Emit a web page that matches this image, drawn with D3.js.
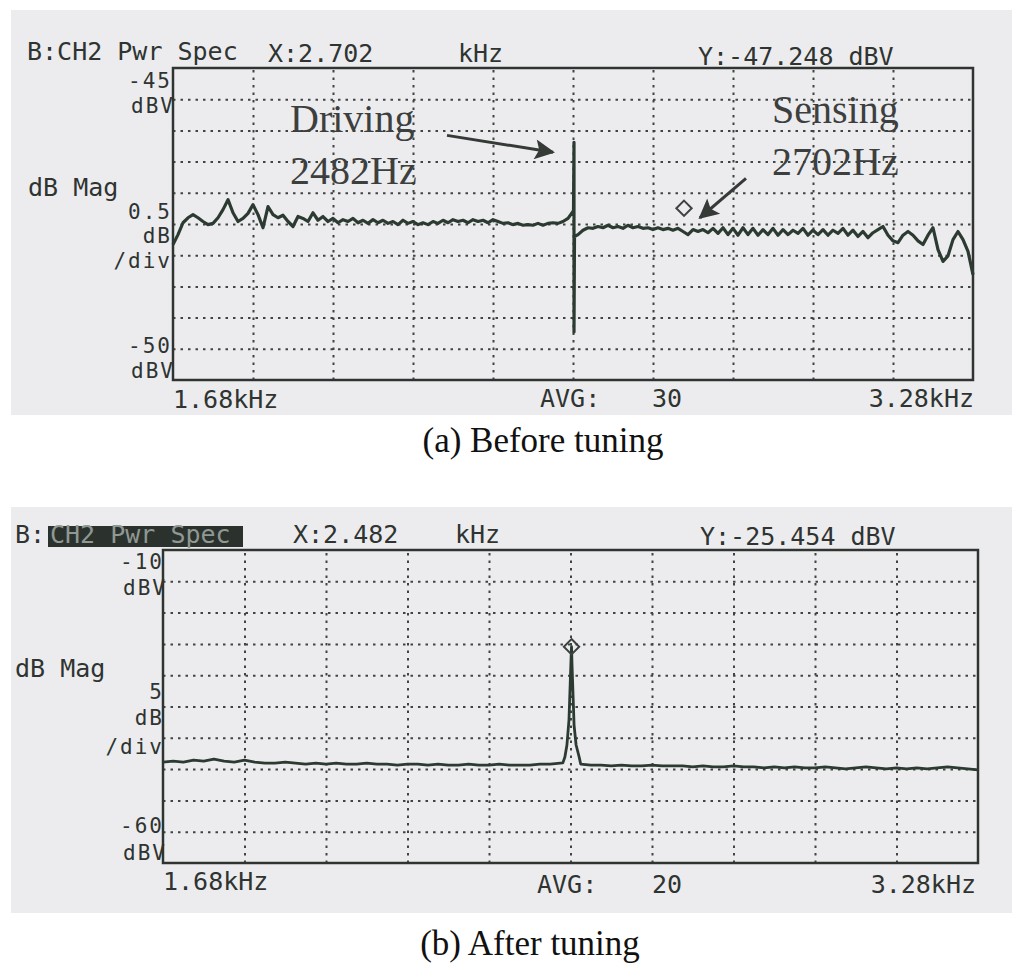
<!DOCTYPE html>
<html>
<head>
<meta charset="utf-8">
<script src="https://cdn.jsdelivr.net/npm/d3@7"></script>
<style>
  body { margin: 0; background: #fff; }
  svg { display: block; }
  .mono { font-family: "DejaVu Sans Mono", monospace; font-size: 25px; fill: #2f3431; }
  .mono.small { font-size: 21px; letter-spacing: 2px; }
  .serif { font-family: "Liberation Serif", "Times New Roman", serif; }
</style>
</head>
<body>
<div id="chart"></div>
<script>
// 1: DATA
const freqStart = 1.68;   // kHz
const freqEnd = 3.28;     // kHz
const gridFreqs = [1.84, 2.00, 2.16, 2.32, 2.48, 2.64, 2.80, 2.96, 3.12];

// (a) before tuning: 10 Hz bins from 1.68 kHz, dBV
const magA = [
  -47.83, -47.67, -47.48, -47.40, -47.35, -47.40, -47.46, -47.51, -47.49, -47.40,
  -47.27, -47.11, -47.32, -47.46, -47.41, -47.33, -47.19, -47.35, -47.56, -47.22,
  -47.35, -47.40, -47.36, -47.46, -47.54, -47.38, -47.41, -47.46, -47.32, -47.44,
  -47.38, -47.46, -47.41, -47.48, -47.43, -47.46, -47.41, -47.48, -47.44, -47.49,
  -47.43, -47.48, -47.44, -47.49, -47.46, -47.51, -47.44, -47.49, -47.46, -47.51,
  -47.48, -47.51, -47.46, -47.49, -47.44, -47.48, -47.43, -47.46, -47.44, -47.48,
  -47.43, -47.46, -47.44, -47.48, -47.43, -47.46, -47.49, -47.48, -47.51, -47.49,
  -47.52, -47.51, -47.52, -47.49, -47.52, -47.49, -47.48, -47.49, -47.46, -47.41,
  -47.30,
  -47.67, -47.60, -47.56, -47.57, -47.54, -47.56, -47.52, -47.56, -47.54, -47.57,
  -47.52, -47.56, -47.54, -47.57, -47.56, -47.59, -47.56, -47.59, -47.57, -47.60,
  -47.57, -47.62, -47.67, -47.59, -47.62, -47.59, -47.64, -47.57, -47.65, -47.56,
  -47.67, -47.57, -47.68, -47.56, -47.67, -47.57, -47.68, -47.59, -47.67, -47.57,
  -47.68, -47.59, -47.67, -47.60, -47.65, -47.57, -47.68, -47.60, -47.67, -47.59,
  -47.68, -47.60, -47.65, -47.57, -47.68, -47.60, -47.70, -47.62, -47.72, -47.64,
  -47.59, -47.54, -47.68, -47.77, -47.80, -47.68, -47.62, -47.68, -47.77, -47.83,
  -47.68, -47.56, -47.91, -48.10, -48.01, -47.75, -47.62, -47.75, -47.94, -48.31
];
// the driving line at 2482 Hz
const spikeFreqA = [2.481, 2.482, 2.482, 2.483];
const spikeMagA = [-47.28, -46.19, -49.23, -47.70];
const gridMagA = [-45.5, -46, -46.5, -47, -47.5, -48, -48.5, -49, -49.5];

// (b) after tuning: 20 Hz bins from 1.68 kHz, dBV (bin at 2.48 replaced by the peak)
const magB = [
  -43.87, -43.71, -43.87, -43.55, -43.71, -43.39, -43.71, -43.87, -43.55, -43.87,
  -44.03, -44.03, -43.87, -44.03, -44.19, -44.03, -44.19, -44.03, -44.19, -44.19,
  -44.03, -44.19, -44.19, -44.35, -44.19, -44.19, -44.35, -44.19, -44.35, -44.35,
  -44.19, -44.35, -44.35, -44.19, -44.35, -44.35, -44.35, -44.19, -44.19, -44.03,
  null,
  -44.19, -44.35, -44.35, -44.50, -44.35, -44.50, -44.50, -44.35, -44.50, -44.50,
  -44.50, -44.66, -44.50, -44.66, -44.66, -44.50, -44.66, -44.66, -44.82, -44.66,
  -44.82, -44.66, -44.82, -44.82, -44.66, -44.82, -44.98, -44.82, -44.66, -44.82,
  -44.98, -44.82, -44.98, -44.82, -44.98, -44.82, -44.66, -44.82, -44.98, -45.14
];
const peakFreqB = [2.465, 2.469, 2.473, 2.477, 2.481, 2.482, 2.483, 2.487, 2.491, 2.497];
const peakMagB = [-44.00, -43.07, -41.15, -37.16, -27.57, -25.45, -28.37, -37.96, -41.15, -43.07];
const gridMagB = [-15, -20, -25, -30, -35, -40, -45, -50, -55];

// cursor markers
const markerFreqs = [2.702, 2.482];
const markerMags = [-47.248, -25.454];

// 2: BUILD SERIES
const seriesA = magA.map((m, i) => ({ f: freqStart + i * 0.01, m }))
  .concat(spikeFreqA.map((f, i) => ({ f, m: spikeMagA[i] })))
  .sort((p, q) => p.f - q.f);

const seriesB = magB.map((m, i) => ({ f: freqStart + i * 0.02, m }))
  .filter(d => d.m !== null)
  .concat(peakFreqB.map((f, i) => ({ f, m: peakMagB[i] })))
  .sort((p, q) => p.f - q.f);

// 3: SVG
const svg = d3.select("#chart").append("svg")
  .attr("width", 1024)
  .attr("height", 967);

const defs = svg.append("defs");
defs.append("marker")
  .attr("id", "head")
  .attr("viewBox", "0 0 10 10")
  .attr("refX", 9).attr("refY", 5)
  .attr("markerUnits", "userSpaceOnUse")
  .attr("markerWidth", 30).attr("markerHeight", 20)
  .attr("orient", "auto")
  .append("path")
  .attr("d", "M0,0 L10,5 L0,10 L2,5 Z")
  .attr("fill", "#353a37");

function drawPanel(cfg) {
  const g = svg.append("g");

  // screen background
  g.append("rect")
    .attr("x", cfg.bg[0]).attr("y", cfg.bg[1])
    .attr("width", cfg.bg[2]).attr("height", cfg.bg[3])
    .attr("fill", "#ececef");

  const x = d3.scaleLinear().domain([freqStart, freqEnd]).range([cfg.left, cfg.right]);
  const y = d3.scaleLinear().domain([cfg.bottomVal, cfg.topVal]).range([cfg.bottom, cfg.top]);

  // dotted grid via axes
  const gx = g.append("g")
    .attr("transform", `translate(0,${cfg.bottom})`)
    .call(d3.axisBottom(x).tickValues(gridFreqs).tickSize(-(cfg.bottom - cfg.top)).tickFormat(""));
  const gy = g.append("g")
    .attr("transform", `translate(${cfg.left},0)`)
    .call(d3.axisLeft(y).tickValues(cfg.gridMags).tickSize(-(cfg.right - cfg.left)).tickFormat(""));
  [gx, gy].forEach(a => {
    a.select(".domain").remove();
    a.selectAll(".tick line")
      .attr("stroke", "#3f4441")
      .attr("stroke-width", 2)
      .attr("stroke-dasharray", "2.5,5");
  });

  // frame
  g.append("rect")
    .attr("x", cfg.left).attr("y", cfg.top)
    .attr("width", cfg.right - cfg.left).attr("height", cfg.bottom - cfg.top)
    .attr("fill", "none")
    .attr("stroke", "#2f3431")
    .attr("stroke-width", 2.5);

  // trace
  g.append("path")
    .datum(cfg.series)
    .attr("fill", "none")
    .attr("stroke", "#2c3b31")
    .attr("stroke-width", cfg.traceWidth)
    .attr("stroke-linejoin", "round")
    .attr("d", d3.line().x(d => x(d.f)).y(d => y(d.m)));

  // cursor diamond
  g.append("path")
    .attr("transform", `translate(${x(cfg.markerF)},${y(cfg.markerM)})`)
    .attr("d", d3.symbol().type(d3.symbolDiamond2).size(150)())
    .attr("fill", "none")
    .attr("stroke", "#3c423e")
    .attr("stroke-width", 2);

  // screen texts
  if (cfg.highlight) {
    g.append("rect")
      .attr("x", cfg.highlight[0]).attr("y", cfg.highlight[1])
      .attr("width", cfg.highlight[2]).attr("height", cfg.highlight[3])
      .attr("fill", "#2b322e");
  }
  g.selectAll("text.mono")
    .data(cfg.labels)
    .enter()
    .append("text")
    .attr("class", d => d.s ? "mono small" : "mono")
    .attr("x", d => d.x)
    .attr("y", d => d.y)
    .attr("text-anchor", d => d.a || "start")
    .style("fill", d => d.c || null)
    .text(d => d.t);

  // caption
  g.append("text")
    .attr("class", "serif")
    .attr("x", cfg.capX).attr("y", cfg.capY)
    .attr("text-anchor", "middle")
    .attr("font-size", 35)
    .attr("fill", "#111")
    .text(cfg.caption);

  return { g, x, y };
}

// 4: PANEL (a)
const pa = drawPanel({
  bg: [11, 10, 1001, 405],
  left: 173, right: 973, top: 68, bottom: 380,
  topVal: -45, bottomVal: -50,
  gridMags: gridMagA,
  series: seriesA,
  traceWidth: 3.2,
  markerF: markerFreqs[0], markerM: markerMags[0],
  labels: [
    { t: "B:CH2 Pwr Spec", x: 27, y: 60 },
    { t: "X:2.702", x: 268, y: 62 },
    { t: "kHz", x: 458, y: 62 },
    { t: "Y:-47.248 dBV", x: 698, y: 65 },
    { t: "-45", x: 172, y: 88, a: "end", s: 1 },
    { t: "dBV", x: 175, y: 113, a: "end", s: 1 },
    { t: "dB Mag", x: 28, y: 196 },
    { t: "0.5", x: 172, y: 219, a: "end", s: 1 },
    { t: "dB", x: 172, y: 243, a: "end", s: 1 },
    { t: "/div", x: 172, y: 268, a: "end", s: 1 },
    { t: "-50", x: 172, y: 353, a: "end", s: 1 },
    { t: "dBV", x: 175, y: 378, a: "end", s: 1 },
    { t: "1.68kHz", x: 173, y: 408 },
    { t: "AVG:", x: 540, y: 407 },
    { t: "30", x: 652, y: 407 },
    { t: "3.28kHz", x: 974, y: 407, a: "end" }
  ],
  caption: "(a) Before tuning", capX: 543, capY: 452
});

// annotations for (a), placed in data units
const annA = [
  { t: "Driving", f: 1.914, m: -46.03 },
  { t: "2482Hz", f: 1.914, m: -46.86 },
  { t: "Sensing", f: 2.878, m: -45.88 },
  { t: "2702Hz", f: 2.878, m: -46.72 }
];
pa.g.selectAll("text.ann")
  .data(annA)
  .enter()
  .append("text")
  .attr("class", "serif ann")
  .attr("x", d => pa.x(d.f))
  .attr("y", d => pa.y(d.m))
  .attr("font-size", 40)
  .attr("fill", "#3d3f3e")
  .text(d => d.t);

const arrowsA = [
  { f0: 2.228, m0: -46.08, f1: 2.44, m1: -46.35 },
  { f0: 2.826, m0: -46.77, f1: 2.734, m1: -47.40 }
];
pa.g.selectAll("line.arrow")
  .data(arrowsA)
  .enter()
  .append("line")
  .attr("class", "arrow")
  .attr("x1", d => pa.x(d.f0)).attr("y1", d => pa.y(d.m0))
  .attr("x2", d => pa.x(d.f1)).attr("y2", d => pa.y(d.m1))
  .attr("stroke", "#353a37")
  .attr("stroke-width", 3)
  .attr("marker-end", "url(#head)");

// 5: PANEL (b)
drawPanel({
  bg: [11, 507, 1001, 406],
  left: 163, right: 978, top: 550, bottom: 863,
  topVal: -10, bottomVal: -60,
  gridMags: gridMagB,
  series: seriesB,
  traceWidth: 2.8,
  markerF: markerFreqs[1], markerM: markerMags[1],
  highlight: [48, 526, 195, 21],
  labels: [
    { t: "B:", x: 15, y: 543 },
    { t: "CH2 Pwr Spec", x: 50, y: 543, c: "#8f9893" },
    { t: "X:2.482", x: 293, y: 543 },
    { t: "kHz", x: 455, y: 543 },
    { t: "Y:-25.454 dBV", x: 700, y: 545 },
    { t: "-10", x: 164, y: 569, a: "end", s: 1 },
    { t: "dBV", x: 167, y: 595, a: "end", s: 1 },
    { t: "dB Mag", x: 15, y: 677 },
    { t: "5", x: 164, y: 699, a: "end", s: 1 },
    { t: "dB", x: 164, y: 725, a: "end", s: 1 },
    { t: "/div", x: 164, y: 754, a: "end", s: 1 },
    { t: "-60", x: 164, y: 833, a: "end", s: 1 },
    { t: "dBV", x: 167, y: 860, a: "end", s: 1 },
    { t: "1.68kHz", x: 163, y: 890 },
    { t: "AVG:", x: 537, y: 893 },
    { t: "20", x: 652, y: 893 },
    { t: "3.28kHz", x: 976, y: 893, a: "end" }
  ],
  caption: "(b) After tuning", capX: 530, capY: 955
});
</script>
</body>
</html>
